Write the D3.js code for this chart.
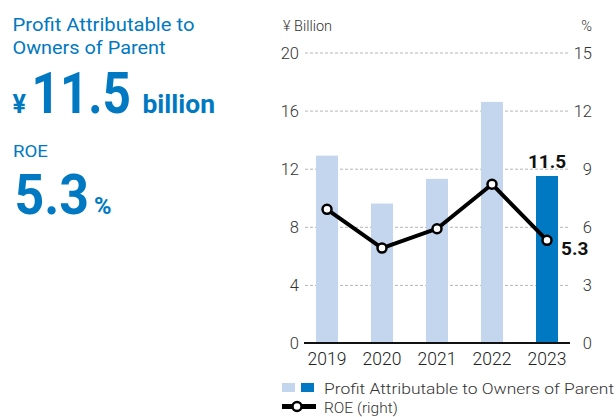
<!DOCTYPE html>
<html><head><meta charset="utf-8">
<script src="https://cdn.jsdelivr.net/npm/d3@7/dist/d3.min.js"></script>
<style>body{margin:0;background:#fff}svg{display:block}text{font-family:Roboto,"Noto Sans",sans-serif}</style>
</head><body>
<svg id="c" width="616" height="417"></svg>
<script>
const years = ["2019","2020","2021","2022","2023"];
const profit = [12.9, 9.6, 11.3, 16.6, 11.5];
const roe = [6.9, 4.9, 5.9, 8.2, 5.3];
const leftTicks = [0,4,8,12,16,20];
const rightTicks = [0,3,6,9,12,15];

const blue = "#0079c2", light = "#c4d5ee", ink = "#333";
const svg = d3.select("#c");

// left panel headline
const hl = [
  {t:"Profit Attributable to", x:12.5, y:30.5, fs:19, w:182, fw:400},
  {t:"Owners of Parent", x:12.5, y:53.5, fs:19, w:153, fw:400},
  {t:"¥", x:12.5, y:112.5, fs:26, w:13.5, fw:700},
  {t:"11.5", x:31.5, y:112.5, fs:57, w:99.5, fw:700},
  {t:"billion", x:142.5, y:112.5, fs:26, w:72.5, fw:700},
  {t:"ROE", x:13, y:157, fs:17, w:35, fw:400},
  {t:"5.3", x:14.5, y:214, fs:55, w:74.5, fw:700},
  {t:"%", x:94, y:214, fs:24, w:17.5, fw:700}
];
svg.selectAll("text.hl").data(hl).join("text").attr("class","hl")
  .attr("x",d=>d.x).attr("y",d=>d.y).attr("font-size",d=>d.fs).attr("font-weight",d=>d.fw)
  .attr("fill",blue).attr("textLength",d=>d.w).attr("lengthAdjust","spacingAndGlyphs").text(d=>d.t);

// chart
const x = d3.scaleBand().domain(years).range([299.5,574.5]).paddingInner(0.6).paddingOuter(0.3);
const yL = d3.scaleLinear().domain([0,20]).range([343,52.5]);
const yR = d3.scaleLinear().domain([0,15]).range([343,52.5]);

// gridlines
svg.append("g").selectAll("line").data(leftTicks.filter(d=>d>0)).join("line")
  .attr("x1",305).attr("x2",569).attr("y1",d=>yL(d)+0.5).attr("y2",d=>yL(d)+0.5)
  .attr("stroke","#b5b5b5").attr("stroke-width",1).attr("stroke-dasharray","3,2");

// left axis
const axL = svg.append("g").attr("transform","translate(299,0)")
  .call(d3.axisLeft(yL).tickValues(leftTicks).tickSize(0).tickPadding(0));
axL.select(".domain").remove();
axL.selectAll("text").attr("font-size",16.5).attr("font-weight",300).attr("fill",ink)
  .attr("font-family","Roboto").attr("dy","0.36em");

// right axis
const axR = svg.append("g").attr("transform","translate(592,0)")
  .call(d3.axisRight(yR).tickValues(rightTicks).tickSize(0).tickPadding(0));
axR.select(".domain").remove();
axR.selectAll("text").attr("text-anchor","end").attr("font-size",16.5).attr("font-weight",300)
  .attr("fill",ink).attr("font-family","Roboto").attr("dy","0.36em");

svg.append("text").attr("x",283).attr("y",31).attr("font-size",14.5).attr("font-weight",300).attr("fill",ink).text("¥ Billion");
svg.append("text").attr("x",592).attr("y",31).attr("text-anchor","end").attr("font-size",14.5).attr("font-weight",300).attr("fill",ink).text("%");

// bars
svg.append("g").selectAll("rect").data(years).join("rect")
  .attr("x",d=>x(d)).attr("width",x.bandwidth())
  .attr("y",(d,i)=>yL(profit[i])).attr("height",(d,i)=>yL(0)-yL(profit[i]))
  .attr("fill",(d,i)=>i===years.length-1?blue:light);

// baseline
svg.append("line").attr("x1",304).attr("x2",570).attr("y1",yL(0)).attr("y2",yL(0)).attr("stroke","#111").attr("stroke-width",2);

// x axis labels
const axB = svg.append("g").attr("transform",`translate(0,${yL(0)})`)
  .call(d3.axisBottom(x).tickSize(0).tickPadding(0));
axB.select(".domain").remove();
axB.selectAll("text").attr("font-size",17.5).attr("font-weight",300).attr("fill","#222")
  .attr("font-family","Roboto").attr("dy","0").attr("y",22);

// ROE line
const cx = d=>x(d)+x.bandwidth()/2;
const line = d3.line().x((d,i)=>cx(years[i])).y(d=>yR(d));
svg.append("path").datum(roe).attr("d",line).attr("fill","none").attr("stroke","#000")
  .attr("stroke-width",4).attr("stroke-linejoin","round");
svg.append("g").selectAll("circle").data(roe).join("circle")
  .attr("cx",(d,i)=>cx(years[i])).attr("cy",d=>yR(d)).attr("r",4.5)
  .attr("fill","#fff").attr("stroke","#000").attr("stroke-width",2.5);

// value labels
const last = years.length-1;
svg.append("text").attr("x",cx(years[last])).attr("y",yL(profit[last])-8).attr("text-anchor","middle")
  .attr("font-size",19).attr("font-weight",700).attr("fill","#111").text(profit[last].toFixed(1));
svg.append("text").attr("x",cx(years[last])+14).attr("y",yR(roe[last])+14.5)
  .attr("font-size",19).attr("font-weight",700).attr("fill","#111").text(roe[last].toFixed(1));

// legend
svg.append("rect").attr("x",282).attr("y",383).attr("width",13).attr("height",9).attr("fill",light);
svg.append("rect").attr("x",301).attr("y",383).attr("width",13).attr("height",9).attr("fill",blue);
svg.append("text").attr("x",324).attr("y",393.5).attr("font-size",15.5).attr("font-weight",300).attr("fill",ink)
  .attr("textLength",290).attr("lengthAdjust","spacingAndGlyphs").text("Profit Attributable to Owners of Parent");
svg.append("line").attr("x1",282).attr("x2",316).attr("y1",406.5).attr("y2",406.5).attr("stroke","#000").attr("stroke-width",5);
svg.append("circle").attr("cx",297).attr("cy",406.5).attr("r",4.5).attr("fill","#fff").attr("stroke","#000").attr("stroke-width",2.5);
svg.append("text").attr("x",324).attr("y",413).attr("font-size",15.5).attr("font-weight",300).attr("fill",ink)
  .text("ROE (right)");
</script>
</body></html>
